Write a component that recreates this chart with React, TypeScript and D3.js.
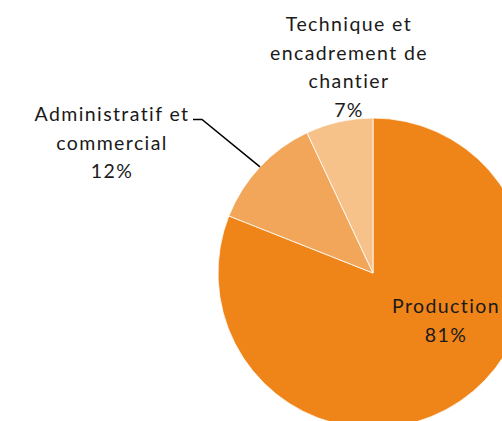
import * as React from 'react';
import * as d3 from 'd3';

const categories = ['Production', 'Administratif et commercial', 'Technique et encadrement de chantier'];
const values = [81, 12, 7];
const colors = ['#EF8418', '#F2A65A', '#F7C18A'];

// label lines per slice, as shown in the chart
const labelLines = [
  ['Production', '81%'],
  ['Administratif et', 'commercial', '12%'],
  ['Technique et', 'encadrement de', 'chantier', '7%'],
];
const labelPos = [
  { x: 446, y: 313 },
  { x: 112, y: 121 },
  { x: 349, y: 31 },
];

const cx = 373;
const cy = 273;
const radius = 155;
const lineH = 28.5;

export default function App() {
  const data = categories.map((c, i) => ({ label: c, value: values[i], color: colors[i] }));
  const pie = d3.pie<any>().sort(null).value((d: any) => d.value);
  const arcs = pie(data);
  const arc = d3.arc<any>().innerRadius(0).outerRadius(radius);
  const edgeArc = d3.arc<any>().innerRadius(radius).outerRadius(radius);

  // leader line for the administratif slice
  const admin = arcs[1];
  const [ex, ey] = edgeArc.centroid(admin);

  return (
    <svg width="502" height="421" style={{ position: 'absolute', left: 0, top: 0 }}
      fontFamily="Lato, 'Open Sans', sans-serif" fontSize="19.5">
      <g transform={`translate(${cx}, ${cy})`}>
        {arcs.map((a, i) => (
          <path key={i} d={arc(a)!} fill={a.data.color} stroke="#fff" strokeWidth={0.8} />
        ))}
      </g>
      <polyline
        points={`193,119.5 202,119.5 ${cx + ex},${cy + ey}`}
        fill="none" stroke="#000" strokeWidth={1.5}
      />
      {labelLines.map((lines, i) => (
        <text key={i} textAnchor="middle" fill="#1a1a1a" letterSpacing="1.4">
          {lines.map((l, j) => (
            <tspan key={j} x={labelPos[i].x} y={labelPos[i].y + j * lineH}>{l}</tspan>
          ))}
        </text>
      ))}
    </svg>
  );
}
